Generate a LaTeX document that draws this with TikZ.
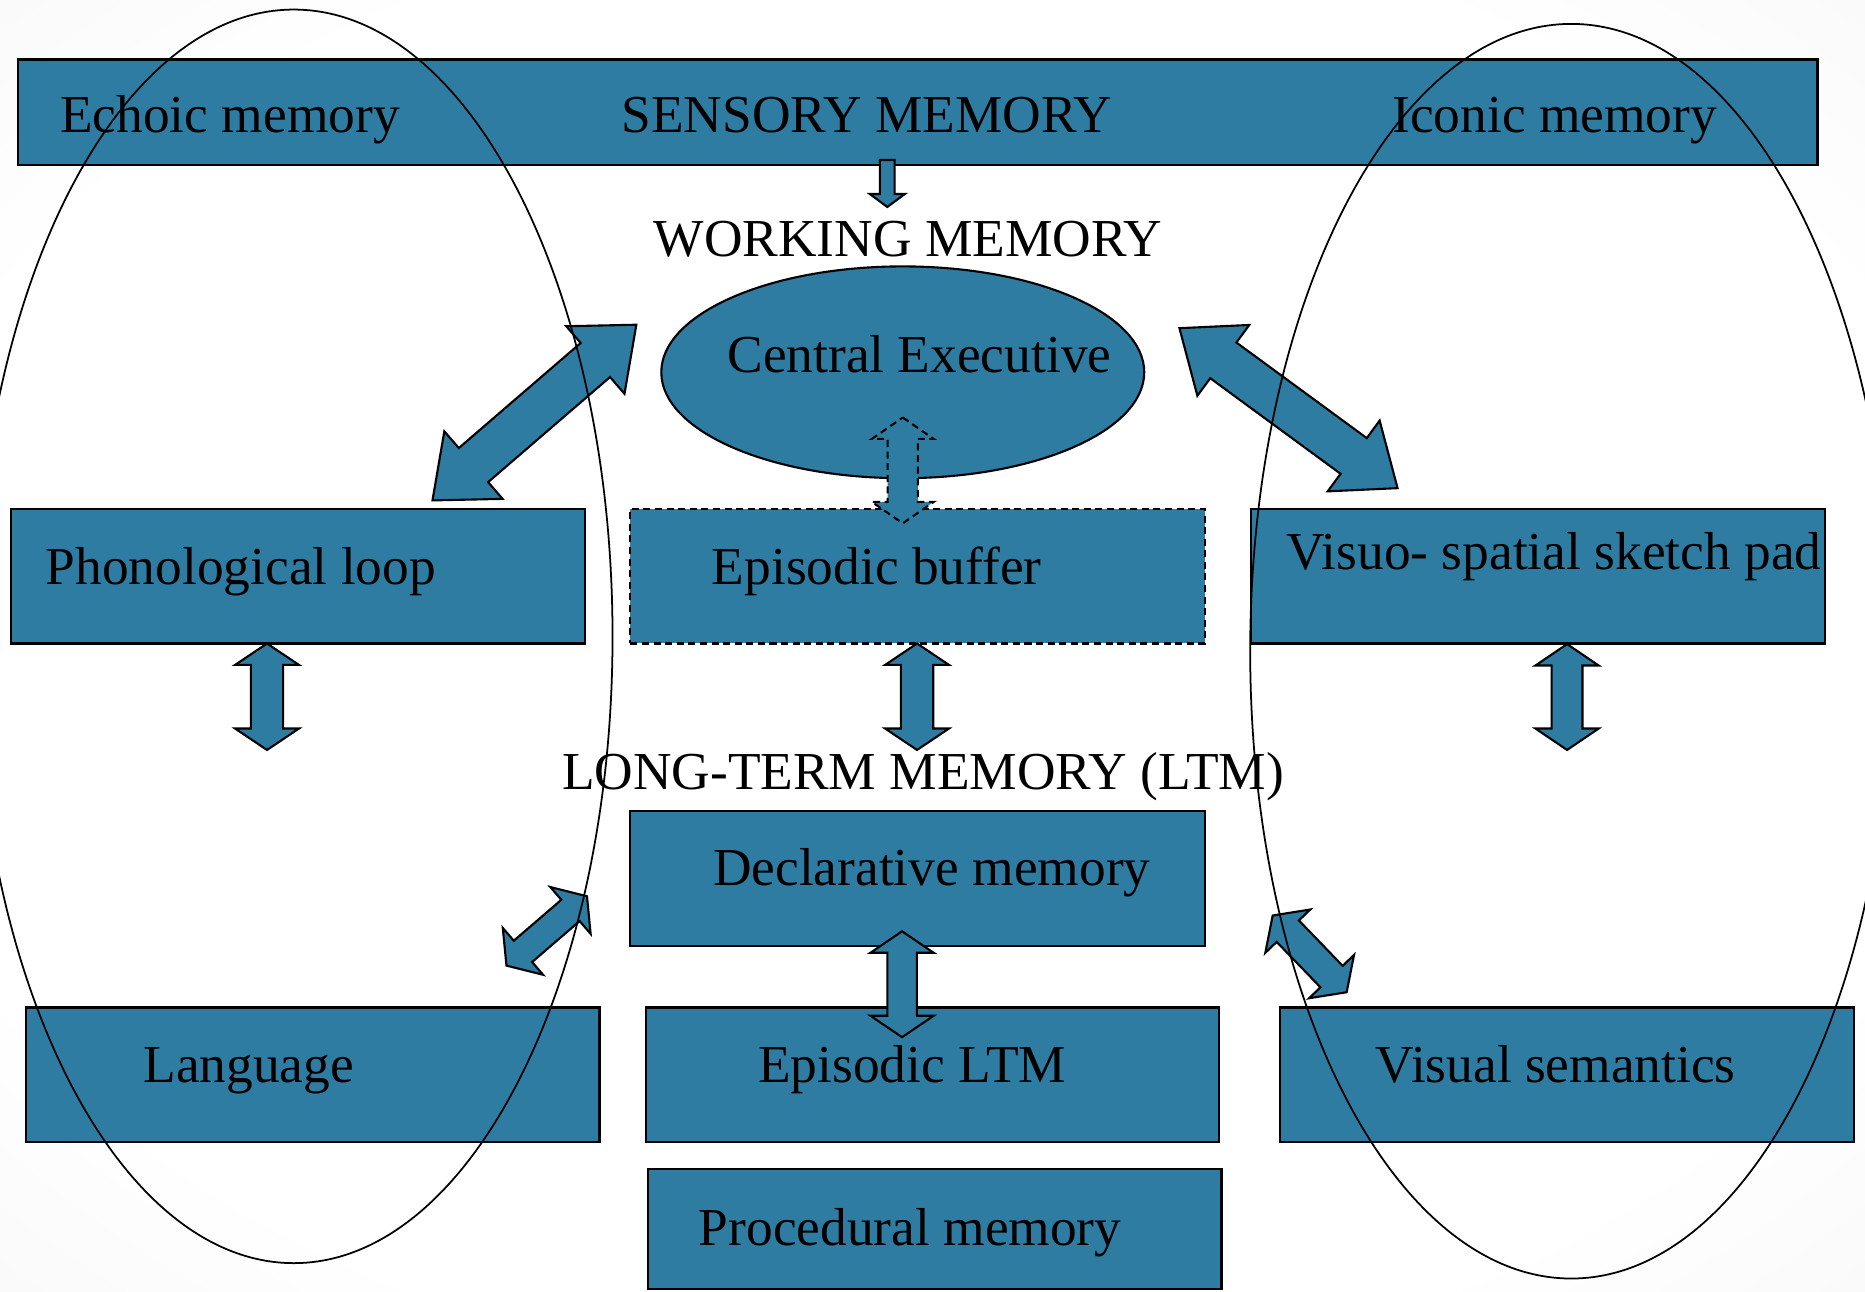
\documentclass[tikz,border=0pt]{standalone}
\usepackage{fontspec}
\setmainfont{Liberation Serif}
\usetikzlibrary{calc,fit,shapes.geometric}

\definecolor{memteal}{RGB}{46,124,161}
\pgfdeclareradialshading{slideglow}{\pgfpoint{0bp}{0bp}}{color(0bp)=(white); color(28bp)=(white); color(50bp)=(black!6); color(71bp)=(black!15)}

\tikzset{
    membox/.style={draw=black, line width=0.6pt, fill=memteal, inner sep=0pt},
    lbl/.style={inner sep=0pt, anchor=base west, font=\fontsize{15.2}{18}\selectfont},
    arrowbody/.style={draw=black, line width=0.6pt, fill=memteal, line join=miter},
    ring/.style={ellipse, draw=black, line width=0.5pt, inner sep=0pt},
    dashedge/.style={dash pattern=on 2pt off 1.3pt}
}

% double block arrow: [style] {from}{to}{shaft half}{head half}{head length}
\newcommand{\blockarrow}[6][]{%
    \filldraw[arrowbody,#1] let \p1=(#2), \p2=(#3), \n1={atan2(\y2-\y1,\x2-\x1)} in
        (\p1) -- ($(\p1)+(\n1:#6)+(\n1+90:#5)$) -- ($(\p1)+(\n1:#6)+(\n1+90:#4)$)
        -- ($(\p2)-(\n1:#6)+(\n1+90:#4)$) -- ($(\p2)-(\n1:#6)+(\n1+90:#5)$) -- (\p2)
        -- ($(\p2)-(\n1:#6)-(\n1+90:#5)$) -- ($(\p2)-(\n1:#6)-(\n1+90:#4)$)
        -- ($(\p1)+(\n1:#6)-(\n1+90:#4)$) -- ($(\p1)+(\n1:#6)-(\n1+90:#5)$) -- cycle;}
% single block arrow
\newcommand{\singleblock}[6][]{%
    \filldraw[arrowbody,#1] let \p1=(#2), \p2=(#3), \n1={atan2(\y2-\y1,\x2-\x1)} in
        ($(\p1)+(\n1+90:#4)$) -- ($(\p2)-(\n1:#6)+(\n1+90:#4)$) -- ($(\p2)-(\n1:#6)+(\n1+90:#5)$) -- (\p2)
        -- ($(\p2)-(\n1:#6)-(\n1+90:#5)$) -- ($(\p2)-(\n1:#6)-(\n1+90:#4)$) -- ($(\p1)-(\n1+90:#4)$) -- cycle;}

\begin{document}
\begin{tikzpicture}[x=0.0119cm, y=-0.0119cm]
    \useasboundingbox (0,0) rectangle (1568,1086);
    \shade[shading=slideglow] (0,0) rectangle (1568,1086);

    % boxes
    \node[membox, fit={(15,50) (1528,139)}] (sensory) {};
    \node[membox, fit={(9,428) (492,541)}] (phon) {};
    \node[membox, dashedge, fit={(530,428) (1013,541)}] (buffer) {};
    \node[membox, fit={(1052,428) (1534,541)}] (visuo) {};
    \node[membox, fit={(530,682) (1013,795)}] (decl) {};
    \node[membox, fit={(22,847) (504,960)}] (lang) {};
    \node[membox, fit={(543,847) (1025,960)}] (epiltm) {};
    \node[membox, fit={(1076,847) (1559,960)}] (vissem) {};
    \node[membox, fit={(545,983) (1027,1084)}] (proc) {};
    \node[membox, ellipse, minimum width=137.5pt, minimum height=60.3pt] (central) at (759,313) {};

    % texts
    \node[lbl] (echoictxt) at (50,111.5) {Echoic memory};
    \node[lbl] (sensorytxt) at (522,111.5) {SENSORY MEMORY};
    \node[lbl] (iconictxt) at (1170,111.5) {Iconic memory};
    \node[lbl] (workingtxt) at (549,215.7) {WORKING MEMORY};
    \node[lbl] (centraltxt) at (611,313) {Central Executive};
    \node[lbl] (phontxt) at (38,491) {Phonological loop};
    \node[lbl] (buffertxt) at (598,491) {Episodic buffer};
    \node[lbl] (visuotxt) at (1081,478.4) {Visuo- spatial sketch pad};
    \node[lbl] (ltmtxt) at (472,664) {LONG-TERM MEMORY (LTM)};
    \node[lbl] (decltxt) at (599,744.5) {Declarative memory};
    \node[lbl] (langtxt) at (120,910.4) {Language};
    \node[lbl] (epiltmtxt) at (637,910.4) {Episodic LTM};
    \node[lbl] (vissemtxt) at (1156,910.4) {Visual semantics};
    \node[lbl] (proctxt) at (587,1047) {Procedural memory};

    % arrow ends
    \coordinate (sensdownA) at (746,134.5);
    \coordinate (sensdownB) at (746,174);
    \coordinate (cephonA) at (363.6,420.7);
    \coordinate (cephonB) at (535,273);
    \coordinate (cevisA) at (991.6,275.9);
    \coordinate (cevisB) at (1175,410.4);
    \coordinate (cebufA) at (759,351);
    \coordinate (cebufB) at (759,440);
    \coordinate (phondownA) at (224.5,541);
    \coordinate (phondownB) at (224.5,630.5);
    \coordinate (bufdownA) at (771,541);
    \coordinate (bufdownB) at (771,630.5);
    \coordinate (visdownA) at (1317.5,541.5);
    \coordinate (visdownB) at (1317.5,630.5);
    \coordinate (declepiA) at (758.4,783);
    \coordinate (declepiB) at (758.4,872);
    \coordinate (langA) at (425.8,811.8);
    \coordinate (langB) at (493.5,753.5);
    \coordinate (vissemA) at (1070,769.7);
    \coordinate (vissemB) at (1132.2,834.2);

    % arrows
    \singleblock{sensdownA}{sensdownB}{2.1pt}{5pt}{3.7pt}
    \blockarrow{cephonA}{cephonB}{6.4pt}{12.7pt}{15.4pt}
    \blockarrow{cevisA}{cevisB}{6.3pt}{12.5pt}{15.5pt}
    \blockarrow[dashedge]{cebufA}{cebufB}{4.3pt}{8.8pt}{6.1pt}
    \blockarrow{phondownA}{phondownB}{4.6pt}{9.1pt}{6.1pt}
    \blockarrow{bufdownA}{bufdownB}{4.6pt}{9.1pt}{6.1pt}
    \blockarrow{visdownA}{visdownB}{4.4pt}{9.0pt}{6.1pt}
    \blockarrow{declepiA}{declepiB}{4.2pt}{9.0pt}{6.1pt}
    \blockarrow{langA}{langB}{4.0pt}{8.8pt}{6.2pt}
    \blockarrow{vissemA}{vissemB}{4.4pt}{8.9pt}{6.2pt}

    % grouping rings
    \node[ring, minimum width=181.5pt, minimum height=356.9pt] (echoring) at (247,535) {};
    \node[ring, minimum width=182.8pt, minimum height=357.2pt] (iconring) at (1321,547.5) {};
\end{tikzpicture}
\end{document}
